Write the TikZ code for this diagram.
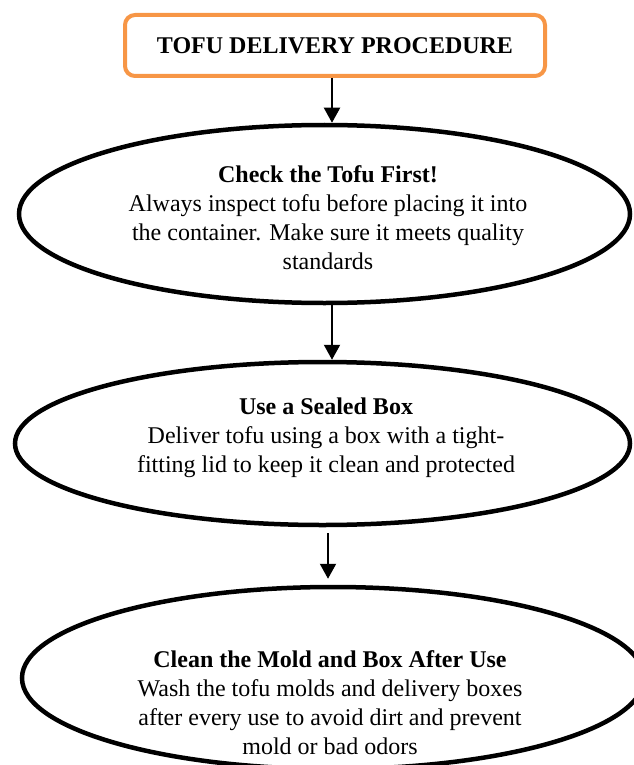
\documentclass[tikz,border=0pt]{standalone}
\usepackage{fontspec}
\setmainfont{Liberation Serif}
\usetikzlibrary{arrows.meta,shapes.geometric}
\definecolor{boxorange}{HTML}{F79646}

\begin{document}
\begin{tikzpicture}[x=0.5pt,y=-0.5pt,font=\fontsize{12}{14.5}\selectfont]
  %----- styles
  \tikzset{
    titlebox/.style={draw=boxorange,line width=2pt,rounded corners=5pt,
                     minimum width=210pt,minimum height=30.5pt,font=\fontsize{12}{14.5}\selectfont\bfseries},
    oval/.style    ={draw,ellipse,line width=2.25pt,inner sep=0pt},
    txt/.style     ={align=center,inner sep=0pt},
    arrow/.style   ={-{Triangle[length=7.5pt,width=8pt]},line width=1pt}
  }
  \useasboundingbox (0,0) rectangle (633,765);

  %----- nodes
  % title
  \node[titlebox] (title) at (335,45.5) {TOFU DELIVERY PROCEDURE};

  % three steps
  \node[oval,minimum width=305.5pt,minimum height=89pt]   (check) at (324.5,214) {};
  \node[oval,minimum width=307.5pt,minimum height=81.5pt] (seal)  at (322.5,443.5) {};
  \node[oval,minimum width=311pt,minimum height=91pt]     (clean) at (333,678) {};

  % texts of the steps
  \node[txt] (checktext) at (328,218) {\textbf{Check the Tofu First!}\\
    Always inspect tofu before placing it into\\
    the container. Make sure it meets quality\\
    standards};
  \node[txt] (sealtext) at (326,438) {\textbf{Use a Sealed Box}\\
    Deliver tofu using a box with a tight-\\
    fitting lid to keep it clean and protected};
  \node[txt] (cleantext) at (330,703) {\textbf{Clean the Mold and Box After Use}\\
    Wash the tofu molds and delivery boxes\\
    after every use to avoid dirt and prevent\\
    mold or bad odors};

  %----- connections
  \draw[arrow] ([xshift=-1.5pt]title.south) -- ([xshift=-1.5pt]title.south |- check.north);
  \draw[arrow] ([xshift=3.75pt]check.south) -- ([xshift=3.75pt]check.south |- seal.north);
  \draw[arrow,shorten <=3pt,shorten >=3pt] ([xshift=2.75pt]seal.south) -- ([xshift=2.75pt]seal.south |- clean.north);
\end{tikzpicture}
\end{document}
